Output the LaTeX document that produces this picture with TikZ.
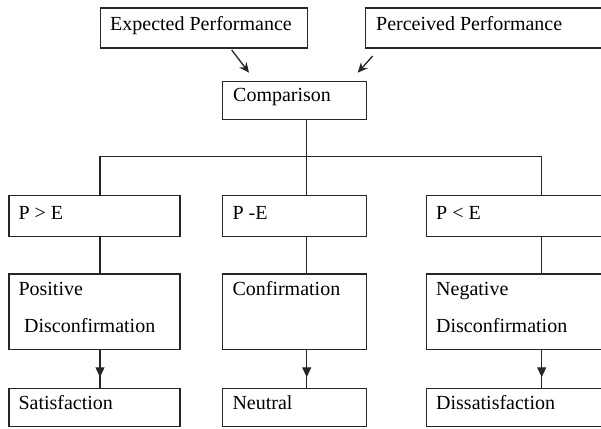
\documentclass[tikz,border=0pt]{standalone}
\usepackage{fontspec}
\setmainfont{Liberation Serif}
\usetikzlibrary{arrows.meta,decorations.markings}
\tikzset{
  box/.style={draw=black!85, line width=1.4pt, rectangle, inner sep=0pt, anchor=north west},
  txt/.style={anchor=base west, inner sep=0pt, font=\fontsize{20}{24}\selectfont, text=black},
  conn/.style={draw=black!85, line width=1.3pt},
  topar/.style={conn, -{Stealth[length=10pt,width=9pt]}},
  midar/.style={conn, postaction={decorate}, decoration={markings,
      mark=at position 0.72 with {\arrow{Triangle[length=10pt,width=9pt]}}}}
}
\begin{document}
\begin{tikzpicture}[x=1pt,y=-1pt]
\useasboundingbox (0,0) rectangle (601,428);
\clip (0,0) rectangle (601,428);
\fill[white] (0,0) rectangle (601,428);
% column coordinates
\coordinate (cL) at (100,0);
\coordinate (cM) at (306.7,0);
\coordinate (cR) at (541.7,0);
\coordinate (hbar) at (0,156.7);
% boxes
\node[box, minimum width=206.7pt, minimum height=40pt] (exp) at (100,7.3) {};
\node[box, minimum width=275pt, minimum height=40pt] (perc) at (365,7.3) {};
\node[box, minimum width=144pt, minimum height=38.3pt] (comp) at (221.7,80.7) {};
\node[box, minimum width=171pt, minimum height=40.5pt] (pge) at (8.3,195) {};
\node[box, minimum width=144pt, minimum height=40.5pt] (pme) at (221.7,195) {};
\node[box, minimum width=214pt, minimum height=40.5pt] (ple) at (426,195) {};
\node[box, minimum width=171pt, minimum height=75.7pt] (pos) at (8.3,273.3) {};
\node[box, minimum width=144pt, minimum height=75.7pt] (conf) at (221.7,273.3) {};
\node[box, minimum width=214pt, minimum height=75.7pt] (neg) at (426,273.3) {};
\node[box, minimum width=171pt, minimum height=38.3pt] (sat) at (8.3,387.7) {};
\node[box, minimum width=144pt, minimum height=38.3pt] (neu) at (221.7,387.7) {};
\node[box, minimum width=214pt, minimum height=38.3pt] (dis) at (426,387.7) {};
% texts
\node[txt] (expT) at (110,30.7) {Expected Performance};
\node[txt] (percT) at (376,30.7) {Perceived Performance};
\node[txt] (compT) at (233,101.7) {Comparison};
\node[txt] (pgeT) at (18.3,219) {P > E};
\node[txt] (pmeT) at (232.3,219) {P -E};
\node[txt] (pleT) at (436,219) {P < E};
\node[txt] (posT1) at (18.3,295) {Positive};
\node[txt] (posT2) at (24,332.7) {Disconfirmation};
\node[txt] (confT) at (232.3,295) {Confirmation};
\node[txt] (negT1) at (436,295) {Negative};
\node[txt] (negT2) at (436,332.7) {Disconfirmation};
\node[txt] (satT) at (18.3,409.3) {Satisfaction};
\node[txt] (neuT) at (232.3,409.3) {Neutral};
\node[txt] (disT) at (436,409.3) {Dissatisfaction};
% top arrows
\coordinate (a1s) at (231.7,50);
\coordinate (a1e) at (249,72.7);
\coordinate (a2s) at (372.7,56);
\coordinate (a2e) at (357.7,72.7);
\draw[topar] (a1s) -- (a1e);
\draw[topar] (a2s) -- (a2e);
% tree connectors
\draw[conn] (comp.south -| cM) -- (pme.north -| cM);
\draw[conn] (pge.north -| cL) |- (hbar -| cR) -- (ple.north -| cR);
\draw[conn] (pge.south -| cL) -- (pos.north -| cL);
\draw[conn] (pme.south -| cM) -- (conf.north -| cM);
\draw[conn] (ple.south -| cR) -- (neg.north -| cR);
\draw[midar] (pos.south -| cL) -- (sat.north -| cL);
\draw[midar] (conf.south -| cM) -- (neu.north -| cM);
\draw[midar] (neg.south -| cR) -- (dis.north -| cR);
\end{tikzpicture}
\end{document}
